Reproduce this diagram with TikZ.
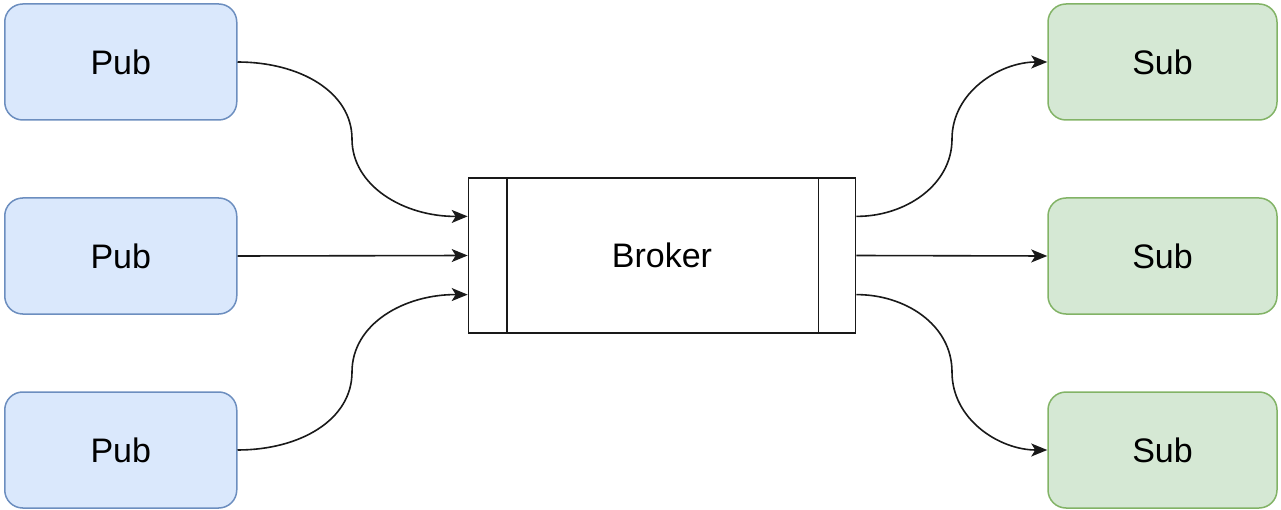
\documentclass[tikz,border=0pt]{standalone}
\usepackage{fontspec}
\setmainfont{Liberation Sans}
\usetikzlibrary{arrows.meta,calc}
\definecolor{pubfill}{HTML}{DAE8FC}
\definecolor{publine}{HTML}{6C8EBF}
\definecolor{subfill}{HTML}{D5E8D4}
\definecolor{subline}{HTML}{82B366}
\begin{document}
\begin{tikzpicture}[x=1pt,y=-1pt,
  box/.style={rounded corners=18pt,line width=1.5pt,minimum width=232pt,minimum height=116pt,inner sep=0pt,font=\fontsize{34}{40}\selectfont},
  pubbox/.style={box,draw=publine,fill=pubfill},
  subbox/.style={box,draw=subline,fill=subfill,minimum width=229pt},
  conn/.style={line width=1.6pt,draw=black!90,-{Stealth[length=16pt,width=13pt,inset=4pt]}}]
\useasboundingbox (0,0) rectangle (1281,510);
\node[pubbox] (p1) at (120.75,62) {Pub};
\node[pubbox] (p2) at (120.75,256) {Pub};
\node[pubbox] (p3) at (120.75,450) {Pub};
\node[subbox] (s1) at (1162.5,62) {Sub};
\node[subbox] (s2) at (1162.5,256) {Sub};
\node[subbox] (s3) at (1162.5,450) {Sub};
\node[draw=black!90,line width=1.6pt,minimum width=387pt,minimum height=155pt,inner sep=0pt,font=\fontsize{34}{40}\selectfont] (b) at (662,255.5) {Broker};
\draw[line width=1.6pt,draw=black!90] ([xshift=39pt]b.north west) -- ([xshift=39pt]b.south west);
\draw[line width=1.6pt,draw=black!90] ([xshift=-38pt]b.north east) -- ([xshift=-38pt]b.south east);
\coordinate (bi1) at ($(b.north west)!0.25!(b.south west)$);
\coordinate (bi3) at ($(b.north west)!0.75!(b.south west)$);
\coordinate (bo1) at ($(b.north east)!0.25!(b.south east)$);
\coordinate (bo3) at ($(b.north east)!0.75!(b.south east)$);
% inputs
\draw[conn] (p1.east) .. controls (300,62) and (352,92) .. (352,139) .. controls (352,186) and (404,216.75) .. (bi1);
\draw[conn] (p2.east) -- (b.west);
\draw[conn] (p3.east) .. controls (300,450) and (352,420) .. (352,372) .. controls (352,324) and (404,294.25) .. (bi3);
% outputs
\draw[conn] (bo1) .. controls (904,216.75) and (952,186) .. (952,139) .. controls (952,92) and (1000,62) .. (s1.west);
\draw[conn] (b.east) -- (s2.west);
\draw[conn] (bo3) .. controls (904,294.25) and (952,324) .. (952,372) .. controls (952,420) and (1000,450) .. (s3.west);
\end{tikzpicture}
\end{document}
